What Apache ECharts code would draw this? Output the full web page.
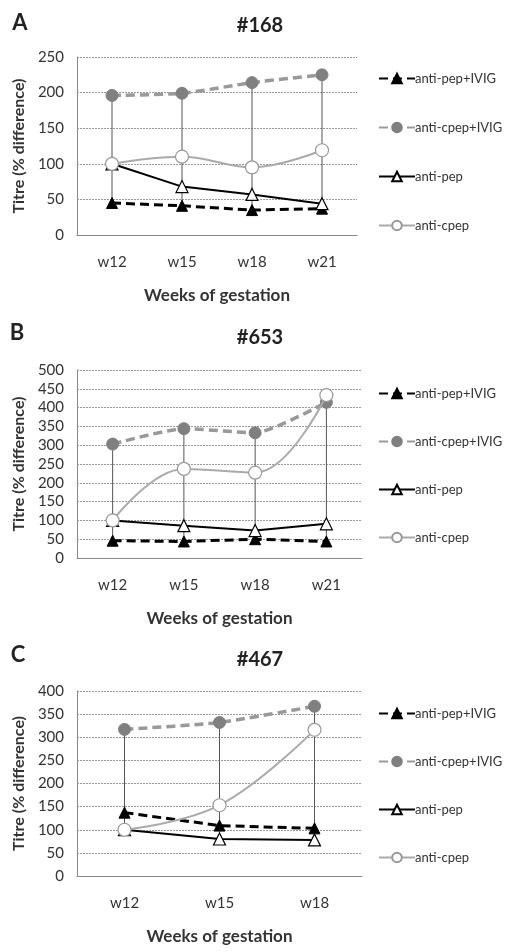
<!DOCTYPE html>
<html><head><meta charset="utf-8">
<script src="https://cdn.jsdelivr.net/npm/echarts@6/dist/echarts.min.js"></script>
<style>html,body{margin:0;padding:0;background:#fff}#c{width:512px;height:952px}</style>
</head><body><div id="c"></div>
<script>
// ---- data ----
const seriesNames = ['anti-pep+IVIG', 'anti-cpep+IVIG', 'anti-pep', 'anti-cpep'];

const categoriesA = ['w12', 'w15', 'w18', 'w21'];
const antiPepIvigA = [45, 41, 35, 37];
const antiCpepIvigA = [196, 199, 214, 225];
const antiPepA = [100, 68, 57, 44];
const antiCpepA = [100, 110, 95, 119];
const yTicksA = { min: 0, max: 250, interval: 50 };

const categoriesB = ['w12', 'w15', 'w18', 'w21'];
const antiPepIvigB = [46, 44, 50, 44];
const antiCpepIvigB = [303, 344, 333, 414];
const antiPepB = [100, 86, 73, 91];
const antiCpepB = [100, 237, 227, 433];
const yTicksB = { min: 0, max: 500, interval: 50 };

const categoriesC = ['w12', 'w15', 'w18'];
const antiPepIvigC = [137, 109, 103];
const antiCpepIvigC = [317, 332, 367];
const antiPepC = [100, 80, 78];
const antiCpepC = [100, 153, 316];
const yTicksC = { min: 0, max: 400, interval: 50 };

const panelLetters = ['A', 'B', 'C'];
const panelTitles = ['#168', '#653', '#467'];
const xAxisTitle = 'Weeks of gestation';
const yAxisTitle = 'Titre (% difference)';

// ---- layout ----
const FONT = 'Lato, "Open Sans", sans-serif';
const TXT = '#333';
const layout = [
  { grid: { left: 77, top: 57, width: 280, height: 178 }, letter: [20, 23], title: [260, 26], legendTop: 67, legendGap: 36 },
  { grid: { left: 77, top: 370, width: 285, height: 188 }, letter: [17, 333], title: [260, 338], legendTop: 382, legendGap: 35 },
  { grid: { left: 77, top: 691, width: 285, height: 185 }, letter: [18, 655], title: [260, 660], legendTop: 702, legendGap: 35 }
];
const panels = [
  { cats: categoriesA, vals: [antiPepIvigA, antiCpepIvigA, antiPepA, antiCpepA], y: yTicksA },
  { cats: categoriesB, vals: [antiPepIvigB, antiCpepIvigB, antiPepB, antiCpepB], y: yTicksB },
  { cats: categoriesC, vals: [antiPepIvigC, antiCpepIvigC, antiPepC, antiCpepC], y: yTicksC }
];

const styles = [
  { lineStyle: { color: '#000', width: 3, type: [9, 5] }, symbol: 'triangle', symbolSize: 11, itemStyle: { color: '#000', borderColor: '#000', borderWidth: 1 }, smooth: false },
  { lineStyle: { color: '#999', width: 3.5, type: [9, 5] }, symbol: 'circle', symbolSize: 12, itemStyle: { color: '#808080', borderColor: '#808080', borderWidth: 1 }, smooth: 0.2 },
  { lineStyle: { color: '#000', width: 2 }, symbol: 'triangle', symbolSize: 12, itemStyle: { color: '#fff', borderColor: '#000', borderWidth: 1.2 }, smooth: false },
  { lineStyle: { color: '#aaa', width: 2 }, symbol: 'circle', symbolSize: 13, itemStyle: { color: '#fff', borderColor: '#999', borderWidth: 1.2 }, smooth: 0.4 }
];

const grids = [], xAxes = [], yAxes = [], series = [], legends = [], graphics = [];

panels.forEach((p, i) => {
  const L = layout[i];
  grids.push(Object.assign({ containLabel: false }, L.grid));
  xAxes.push({
    type: 'category', gridIndex: i, data: p.cats, boundaryGap: true,
    axisLine: { lineStyle: { color: '#888', width: 1 } },
    axisTick: { show: false },
    axisLabel: { color: TXT, fontFamily: FONT, fontSize: 15, margin: 20 },
    name: xAxisTitle, nameLocation: 'middle', nameGap: 52,
    nameTextStyle: { color: TXT, fontFamily: FONT, fontSize: 17, fontWeight: 'bold' }
  });
  yAxes.push({
    type: 'value', gridIndex: i, min: p.y.min, max: p.y.max, interval: p.y.interval,
    axisLine: { show: true, lineStyle: { color: '#888', width: 1 } },
    axisTick: { show: false },
    axisLabel: { color: TXT, fontFamily: FONT, fontSize: 15, margin: 13 },
    splitLine: { lineStyle: { color: '#999', width: 1, type: [2, 1] } },
    name: yAxisTitle, nameLocation: 'middle', nameRotate: 90, nameGap: 50,
    nameTextStyle: { color: TXT, fontFamily: FONT, fontSize: 16, fontWeight: 'bold' }
  });
  // high-low drop lines from data
  const drops = p.cats.map((c, k) => {
    const v = p.vals.map(a => a[k]);
    return [k, Math.min(...v), Math.max(...v)];
  });
  series.push({
    type: 'custom', xAxisIndex: i, yAxisIndex: i, z: 1, silent: true,
    data: drops,
    renderItem: function (params, api) {
      const a = api.coord([api.value(0), api.value(1)]);
      const b = api.coord([api.value(0), api.value(2)]);
      return { type: 'line', shape: { x1: a[0], y1: a[1], x2: b[0], y2: b[1] }, style: { stroke: '#555', lineWidth: 1 } };
    }
  });
  seriesNames.forEach((n, s) => {
    const st = styles[s];
    series.push({
      type: 'line', name: n, xAxisIndex: i, yAxisIndex: i, z: 3 + (s === 2 || s === 3 ? 1 : 0),
      data: p.vals[s], symbol: st.symbol, symbolSize: st.symbolSize, smooth: st.smooth,
      lineStyle: st.lineStyle, itemStyle: st.itemStyle, showSymbol: true,
      emphasis: { disabled: true }
    });
  });
  legends.push({
    orient: 'vertical', left: 373, top: L.legendTop, itemWidth: 36, itemHeight: 12,
    itemGap: L.legendGap, selectedMode: false, data: seriesNames,
    textStyle: { color: TXT, fontFamily: FONT, fontSize: 13, padding: [0, 0, 0, -5] }
  });
  graphics.push({
    type: 'text', x: L.letter[0], y: L.letter[1],
    style: { text: panelLetters[i], font: 'bold 22px ' + FONT, fill: '#222', align: 'center', verticalAlign: 'middle' }
  });
  graphics.push({
    type: 'text', x: L.title[0], y: L.title[1],
    style: { text: panelTitles[i], font: 'bold 20px ' + FONT, fill: '#222', align: 'center', verticalAlign: 'middle' }
  });
});

const chart = echarts.init(document.getElementById('c'), null, { renderer: 'canvas' });
chart.setOption({
  animation: false,
  backgroundColor: '#fff',
  grid: grids, xAxis: xAxes, yAxis: yAxes, series: series, legend: legends, graphic: graphics
});
</script></body></html>
